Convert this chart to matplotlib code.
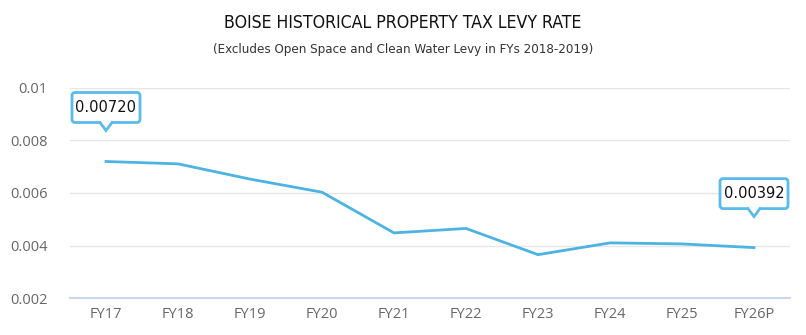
import numpy as np
import matplotlib
matplotlib.use("Agg")
from matplotlib import pyplot as plt
from matplotlib.patches import FancyBboxPatch, Polygon
from matplotlib.lines import Line2D

# Boise levy rate by fiscal year

years = ["FY17", "FY18", "FY19", "FY20", "FY21", "FY22", "FY23", "FY24", "FY25", "FY26P"]
levy = [0.00720, 0.00711, 0.00653, 0.00603, 0.00448, 0.00465, 0.00365, 0.00410, 0.00406, 0.00392]
yticks = [0.002, 0.004, 0.006, 0.008, 0.01]
ytick_labels = ["0.002", "0.004", "0.006", "0.008", "0.01"]
callouts = {0: "0.00720", 9: "0.00392"}

line_col = "#4db3e2"
box_col = "#5bbbe8"

fig = plt.figure(figsize=(8.06, 3.35), dpi=100)
ax = fig.add_axes([70/806, 37/335, 720/806, 210/335])

x = np.arange(len(years))
ax.plot(x, levy, color=line_col, lw=2, solid_joinstyle="round", zorder=3)

ax.set_xlim(-0.5, len(years)-0.5)
ax.set_ylim(0.002, 0.01)
ax.set_yticks(yticks)
ax.set_yticklabels(ytick_labels)
ax.set_xticks(x)
ax.set_xticklabels(years)
ax.tick_params(length=0, colors="#666666", labelsize=10.5)
ax.tick_params(axis="x", pad=6.5)
ax.tick_params(axis="y", pad=16)
for lab in ax.get_xticklabels() + ax.get_yticklabels():
    lab.set_fontfamily("Open Sans")
ax.grid(axis="y", color="#e6e6e6", lw=1)
ax.set_axisbelow(True)
for s in ["top", "right", "left"]:
    ax.spines[s].set_visible(False)
ax.spines["bottom"].set_color("#ccd6eb")
ax.spines["bottom"].set_linewidth(1.5)

# callout boxes (pixel units, dpi 100)
bw, bh, gap, ph, pw = 68, 30, 39, 8, 6
for i, txt in callouts.items():
    px, py = ax.transData.transform((x[i], levy[i]))
    box = FancyBboxPatch((px - bw/2, py + gap), bw, bh, boxstyle="round,pad=0,rounding_size=3",
                         fc="white", ec=box_col, lw=2, transform=None, zorder=5, clip_on=False)
    fig.patches.append(box)
    tri = Polygon([(px - pw, py + gap + 1.5), (px, py + gap - ph), (px + pw, py + gap + 1.5)],
                  closed=True, fc="white", ec="none", transform=None, zorder=6)
    fig.patches.append(tri)
    vee = Line2D([px - pw, px, px + pw], [py + gap, py + gap - ph, py + gap], color=box_col, lw=2,
                 transform=None, zorder=7, solid_joinstyle="miter")
    fig.lines.append(vee)
    fig.text(px / fig.bbox.width, (py + gap + bh/2) / fig.bbox.height, txt, ha="center", va="center",
             fontsize=10.5, family="DejaVu Sans", color="#111111", zorder=8)

fig.text(0.5, 1-23/335, "BOISE HISTORICAL PROPERTY TAX LEVY RATE", ha="center", va="center",
         fontsize=12.7, family="DejaVu Sans", fontstretch="condensed", color="#111111")
fig.text(0.5, 1-49/335, "(Excludes Open Space and Clean Water Levy in FYs 2018-2019)", ha="center",
         va="center", fontsize=9.5, family="DejaVu Sans", fontstretch="condensed", color="#333333")

fig.savefig("out.png", dpi=100, facecolor="white")
